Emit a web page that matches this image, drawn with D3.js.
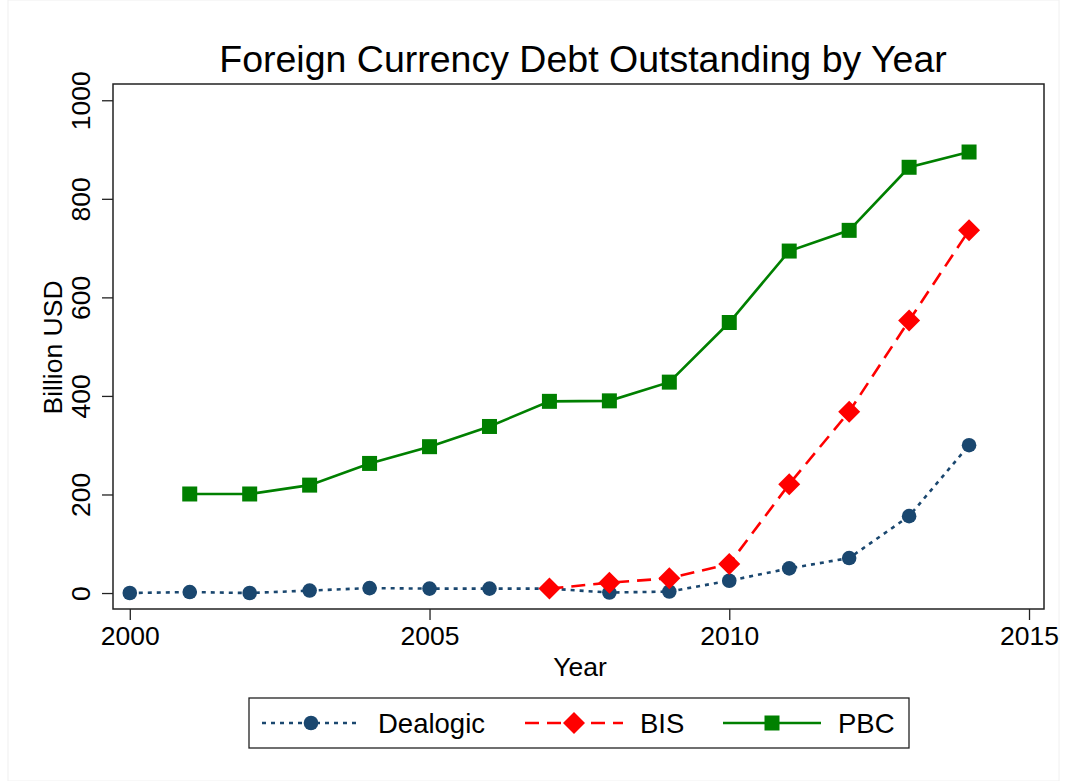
<!DOCTYPE html>
<html><head><meta charset="utf-8">
<script src="https://cdn.jsdelivr.net/npm/d3@7"></script>
<style>body{margin:0;background:#fff;} text{font-family:"Liberation Sans",Arial,sans-serif;fill:#000;}</style>
</head><body>
<svg id="c" width="1067" height="781"></svg>
<script>
const years = [2000,2001,2002,2003,2004,2005,2006,2007,2008,2009,2010,2011,2012,2013,2014];
const dealogic = [0,2,0,5,10,9,9,9,1,3,25,50,71,156,300];
const bis = [null,null,null,null,null,null,null,9,21,30,59,221,368,553,736];
const pbc = [null,201,201,219,263,297,338,389,390,428,549,694,736,864,895];
const xTicks = [2000,2005,2010,2015];
const yTicks = [0,200,400,600,800,1000];
const seriesNames = ["Dealogic","BIS","PBC"];

(function(){
const svg = d3.select("#c");
const W = 1067, H = 781;
svg.append("rect").attr("x",8).attr("y",0).attr("width",W-16).attr("height",H).attr("fill","#fff").attr("stroke","#f0f0f0");

const pL = 113, pR = 1044, pT = 84, pB = 609;
const x = d3.scaleLinear().domain([1999.72, 2015.25]).range([pL, pR]);
const y = d3.scaleLinear().domain([-32.4, 1033]).range([pB, pT]);

svg.append("rect").attr("x",pL).attr("y",pT).attr("width",pR-pL).attr("height",pB-pT)
  .attr("fill","none").attr("stroke","#222").attr("stroke-width",1.5);

const xAxis = d3.axisBottom(x).tickValues(xTicks).tickFormat(d3.format("d")).tickSize(11).tickPadding(6);
const gx = svg.append("g").attr("transform",`translate(0,${pB})`).call(xAxis);
gx.select(".domain").remove();
gx.selectAll("line").attr("stroke","#222").attr("stroke-width",1.3);
gx.selectAll("text").style("font-size","26.5px").attr("fill","#000");

const yAxis = d3.axisLeft(y).tickValues(yTicks).tickSize(11).tickPadding(0).tickFormat(d3.format("d"));
const gy = svg.append("g").attr("transform",`translate(${pL},0)`).call(yAxis);
gy.select(".domain").remove();
gy.selectAll("line").attr("stroke","#222").attr("stroke-width",1.3);
gy.selectAll("text").style("font-size","26.5px").attr("fill","#000")
  .attr("x",0).attr("dy",0).attr("text-anchor","middle")
  .attr("transform","translate(-23,0) rotate(-90)");

svg.append("text").attr("x",583).attr("y",72).attr("text-anchor","middle").style("font-size","37.5px")
  .text("Foreign Currency Debt Outstanding by Year");
svg.append("text").attr("x",580).attr("y",676).attr("text-anchor","middle").style("font-size","26.5px").text("Year");
svg.append("text").attr("transform",`translate(62,${(pT+pB)/2+1}) rotate(-90)`).attr("text-anchor","middle")
  .style("font-size","26.5px").text("Billion USD");

const styles = [
  {name:seriesNames[0], data:dealogic, color:"#1a476f", dash:"4,5", marker:"circle"},
  {name:seriesNames[1], data:bis, color:"#ff0000", dash:"14,8", marker:"diamond"},
  {name:seriesNames[2], data:pbc, color:"#008000", dash:null, marker:"square"}
];

function drawMarker(g, type, cx, cy, color){
  if(type==="circle") g.append("circle").attr("cx",cx).attr("cy",cy).attr("r",7.3).attr("fill",color);
  else if(type==="diamond") g.append("path").attr("d",`M${cx},${cy-11}L${cx+11},${cy}L${cx},${cy+11}L${cx-11},${cy}Z`).attr("fill",color);
  else g.append("rect").attr("x",cx-7.5).attr("y",cy-7.5).attr("width",15).attr("height",15).attr("fill",color);
}

const line = d3.line().defined(d=>d[1]!=null).x(d=>x(d[0])).y(d=>y(d[1]));
const plot = svg.append("g");
[styles[2], styles[0], styles[1]].forEach(s=>{
  const pts = years.map((yr,i)=>[yr,s.data[i]]);
  plot.append("path").datum(pts).attr("d",line).attr("fill","none").attr("stroke",s.color)
    .attr("stroke-width",2.6).attr("stroke-dasharray",s.dash);
  pts.filter(p=>p[1]!=null).forEach(p=>drawMarker(plot,s.marker,x(p[0]),y(p[1]),s.color));
});

const lg = svg.append("g");
lg.append("rect").attr("x",249).attr("y",698).attr("width",660).attr("height",50).attr("fill","#fff").attr("stroke","#222").attr("stroke-width",1.3);
const items = [{s:styles[0],x0:262,tx:378},{s:styles[1],x0:525,tx:640},{s:styles[2],x0:723,tx:838}];
items.forEach(it=>{
  const cy = 723;
  lg.append("line").attr("x1",it.x0).attr("x2",it.x0+98).attr("y1",cy).attr("y2",cy)
    .attr("stroke",it.s.color).attr("stroke-width",2.6).attr("stroke-dasharray",it.s.dash);
  drawMarker(lg,it.s.marker,it.x0+49,cy,it.s.color);
  lg.append("text").attr("x",it.tx).attr("y",cy+10).style("font-size","27.5px").text(it.s.name);
});
})();
</script>
</body></html>
